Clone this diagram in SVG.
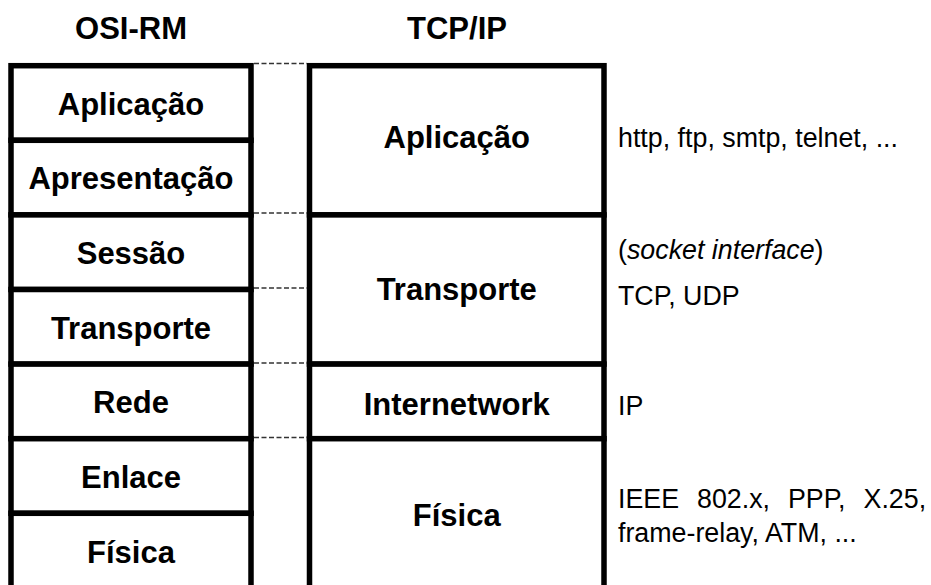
<svg xmlns="http://www.w3.org/2000/svg" width="931" height="585" viewBox="0 0 931 585">
<style>
.cell{fill:#fff;stroke:#000;stroke-width:5.5}
.b{font-family:"Liberation Sans",Arial,sans-serif;font-weight:bold;font-size:31px;text-anchor:middle;fill:#000}
.r{font-family:"Liberation Sans",Arial,sans-serif;font-size:26.8px;fill:#000}
.dash{stroke:#333;stroke-width:1.5;stroke-dasharray:5 2.5;fill:none}
</style>
<rect width="931" height="585" fill="#fff"/>
<text class="b" x="131" y="39">OSI-RM</text>
<text class="b" x="457" y="39">TCP/IP</text>
<g id="osi">
<g id="osi-aplicacao"><rect class="cell" x="11" y="65.7" width="240" height="74.6"/><text class="b" x="131" y="114.8">Aplicação</text></g>
<g id="osi-apresentacao"><rect class="cell" x="11" y="140.3" width="240" height="74.6"/><text class="b" x="131" y="189.4">Apresentação</text></g>
<g id="osi-sessao"><rect class="cell" x="11" y="214.9" width="240" height="74.6"/><text class="b" x="131" y="264">Sessão</text></g>
<g id="osi-transporte"><rect class="cell" x="11" y="289.5" width="240" height="74.6"/><text class="b" x="131" y="338.6">Transporte</text></g>
<g id="osi-rede"><rect class="cell" x="11" y="364.1" width="240" height="74.6"/><text class="b" x="131" y="413.2">Rede</text></g>
<g id="osi-enlace"><rect class="cell" x="11" y="438.7" width="240" height="74.6"/><text class="b" x="131" y="487.8">Enlace</text></g>
<g id="osi-fisica"><rect class="cell" x="11" y="513.3" width="240" height="80"/><text class="b" x="131" y="563">Física</text></g>
</g>
<g id="tcpip">
<g id="tcp-aplicacao"><rect class="cell" x="309.5" y="65.7" width="294.5" height="149.2"/><text class="b" x="456.75" y="148">Aplicação</text></g>
<g id="tcp-transporte"><rect class="cell" x="309.5" y="214.9" width="294.5" height="149.2"/><text class="b" x="456.75" y="300">Transporte</text></g>
<g id="tcp-internetwork"><rect class="cell" x="309.5" y="364.1" width="294.5" height="74.6"/><text class="b" x="456.75" y="415">Internetwork</text></g>
<g id="tcp-fisica"><rect class="cell" x="309.5" y="438.7" width="294.5" height="160"/><text class="b" x="456.75" y="526">Física</text></g>
</g>
<g id="connectors">
<line class="dash" x1="254" y1="63.5" x2="307" y2="63.5"/>
<line class="dash" x1="254" y1="213" x2="307" y2="213"/>
<line class="dash" x1="254" y1="288" x2="307" y2="288"/>
<line class="dash" x1="254" y1="363" x2="307" y2="363"/>
<line class="dash" x1="254" y1="437.5" x2="307" y2="437.5"/>
</g>
<g id="protocols">
<text class="r" x="618" y="147">http, ftp, smtp, telnet, ...</text>
<text class="r" x="618" y="259">(<tspan font-style="italic">socket interface</tspan>)</text>
<text class="r" x="618" y="305">TCP, UDP</text>
<text class="r" x="618" y="415">IP</text>
<text class="r" x="618" y="508" word-spacing="10.5">IEEE 802.x, PPP, X.25,</text>
<text class="r" x="618" y="542">frame-relay, ATM, ...</text>
</g>
</svg>
